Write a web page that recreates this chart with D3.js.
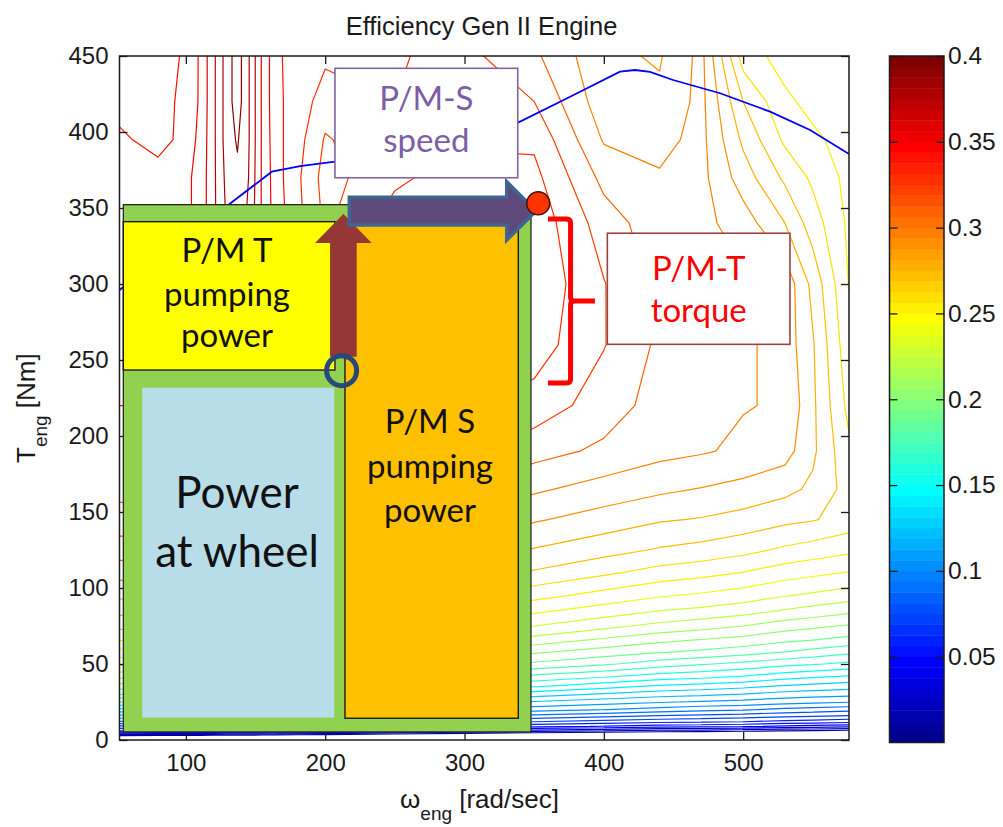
<!DOCTYPE html>
<html>
<head>
<meta charset="utf-8">
<title>Efficiency Gen II Engine</title>
<script src="https://cdn.jsdelivr.net/npm/d3@7"></script>
<style>
  html, body { margin: 0; padding: 0; background: #ffffff; }
  svg { display: block; }
  .tick text { font-family: "Liberation Sans", Arial, sans-serif; fill: #1a1a1a; }
</style>
</head>
<body>
<svg id="chart" width="1003" height="827"></svg>
<script>
// ---- Efficiency map of the engine -------------------------------------------------
// engine speed samples [rad/s]
const speedGrid = [52.36, 80, 98, 110, 120, 130, 137, 145, 155, 165, 180, 200, 250, 300, 350, 400, 440, 470, 500, 530, 550, 575.96];
// engine torque samples [Nm]
const torqueGrid = [0, 3, 6, 9, 12, 16, 20, 25, 30, 36, 42, 50, 58, 66, 75, 85, 95, 110, 125, 145, 165, 190, 220, 260, 300, 340, 370, 395, 420, 450];
// brake efficiency, one row per torque sample (bottom to top), one value per speed sample
const efficiency = [
  [-0.04, -0.04, -0.04, -0.04, -0.04, -0.04, -0.04, -0.04, -0.04, -0.04, -0.04, -0.04, -0.04, -0.04, -0.04, -0.04, -0.04, -0.04, -0.04, -0.04, -0.04, -0.04],
  [0.0125, 0.0105, 0.0096, 0.009, 0.008, 0.007, 0.007, 0.006, 0.0055, 0.0045, 0.003, 0.0008, -0.004, -0.008, -0.012, -0.0139, -0.015, -0.0158, -0.0167, -0.0178, -0.0183, -0.019],
  [0.06, 0.058, 0.057, 0.056, 0.055, 0.054, 0.054, 0.053, 0.0527, 0.052, 0.0496, 0.047, 0.040, 0.032, 0.025, 0.0201, 0.016, 0.0146, 0.0125, 0.0095, 0.0083, 0.006],
  [0.078, 0.078, 0.078, 0.078, 0.078, 0.078, 0.078, 0.078, 0.078, 0.078, 0.0732, 0.0707, 0.0649, 0.059, 0.053, 0.0493, 0.045, 0.0438, 0.0417, 0.0382, 0.0364, 0.034],
  [0.099, 0.099, 0.099, 0.099, 0.099, 0.099, 0.099, 0.099, 0.099, 0.099, 0.0923, 0.0891, 0.082, 0.0754, 0.070, 0.066, 0.063, 0.0617, 0.060, 0.0568, 0.0553, 0.053],
  [0.118, 0.118, 0.118, 0.118, 0.118, 0.118, 0.118, 0.118, 0.118, 0.118, 0.1118, 0.1091, 0.1028, 0.0954, 0.088, 0.0834, 0.080, 0.0781, 0.076, 0.0732, 0.0718, 0.070],
  [0.137, 0.137, 0.137, 0.137, 0.137, 0.137, 0.137, 0.137, 0.137, 0.137, 0.1291, 0.1255, 0.1175, 0.1102, 0.104, 0.1003, 0.096, 0.0929, 0.0912, 0.0876, 0.0859, 0.0836],
  [0.160, 0.160, 0.160, 0.160, 0.160, 0.160, 0.160, 0.160, 0.160, 0.160, 0.1506, 0.1462, 0.136, 0.1269, 0.119, 0.1144, 0.111, 0.1089, 0.1068, 0.1038, 0.1024, 0.1006],
  [0.180, 0.180, 0.180, 0.180, 0.180, 0.180, 0.180, 0.180, 0.180, 0.180, 0.1689, 0.1648, 0.1547, 0.1437, 0.1345, 0.1286, 0.124, 0.122, 0.1194, 0.1158, 0.1141, 0.1128],
  [0.197, 0.197, 0.197, 0.197, 0.197, 0.197, 0.197, 0.197, 0.197, 0.197, 0.1896, 0.1853, 0.1734, 0.1626, 0.153, 0.1458, 0.140, 0.1377, 0.1345, 0.1302, 0.1282, 0.1258],
  [0.214, 0.214, 0.214, 0.214, 0.214, 0.214, 0.214, 0.214, 0.214, 0.214, 0.204, 0.1997, 0.1905, 0.1803, 0.168, 0.1619, 0.156, 0.1536, 0.150, 0.1448, 0.1424, 0.1394],
  [0.232, 0.232, 0.232, 0.232, 0.232, 0.232, 0.232, 0.232, 0.232, 0.232, 0.2234, 0.2193, 0.2072, 0.1966, 0.188, 0.1815, 0.175, 0.171, 0.1674, 0.1629, 0.161, 0.1576],
  [0.247, 0.247, 0.247, 0.247, 0.247, 0.247, 0.247, 0.247, 0.247, 0.247, 0.2381, 0.2341, 0.2239, 0.2122, 0.2018, 0.1954, 0.191, 0.1882, 0.1848, 0.1801, 0.1767, 0.1725],
  [0.261, 0.261, 0.261, 0.261, 0.261, 0.261, 0.261, 0.261, 0.261, 0.261, 0.2511, 0.2468, 0.2366, 0.2265, 0.2164, 0.2085, 0.203, 0.1998, 0.1967, 0.1924, 0.1904, 0.1872],
  [0.273, 0.273, 0.273, 0.273, 0.273, 0.273, 0.273, 0.273, 0.273, 0.273, 0.2645, 0.2605, 0.2494, 0.239, 0.230, 0.223, 0.217, 0.2139, 0.210, 0.2046, 0.2021, 0.199],
  [0.283, 0.283, 0.283, 0.283, 0.283, 0.283, 0.283, 0.283, 0.283, 0.283, 0.2759, 0.2724, 0.2627, 0.2516, 0.242, 0.2353, 0.230, 0.2275, 0.2241, 0.219, 0.2162, 0.2125],
  [0.292, 0.292, 0.292, 0.292, 0.292, 0.292, 0.292, 0.292, 0.292, 0.292, 0.2846, 0.2814, 0.2731, 0.2633, 0.2534, 0.2463, 0.241, 0.2383, 0.235, 0.2305, 0.2281, 0.2249],
  [0.304, 0.304, 0.304, 0.304, 0.304, 0.304, 0.304, 0.304, 0.304, 0.304, 0.2963, 0.293, 0.2848, 0.2765, 0.2687, 0.2618, 0.256, 0.2532, 0.2496, 0.2446, 0.2423, 0.2393],
  [0.315, 0.315, 0.315, 0.315, 0.315, 0.315, 0.315, 0.315, 0.315, 0.315, 0.3072, 0.3036, 0.295, 0.2867, 0.2793, 0.2737, 0.269, 0.2666, 0.2631, 0.2581, 0.2555, 0.2523],
  [0.326, 0.326, 0.326, 0.326, 0.326, 0.326, 0.326, 0.326, 0.326, 0.326, 0.320, 0.3165, 0.3076, 0.2987, 0.2911, 0.2856, 0.281, 0.2793, 0.2764, 0.2725, 0.2707, 0.266],
  [0.333, 0.333, 0.333, 0.333, 0.333, 0.333, 0.333, 0.333, 0.333, 0.333, 0.328, 0.326, 0.3187, 0.310, 0.3016, 0.296, 0.292, 0.2895, 0.2868, 0.2829, 0.278, 0.266],
  [0.338, 0.338, 0.338, 0.338, 0.338, 0.338, 0.338, 0.338, 0.338, 0.338, 0.334, 0.332, 0.329, 0.3215, 0.3138, 0.308, 0.303, 0.301, 0.2981, 0.2941, 0.282, 0.262],
  [0.340, 0.340, 0.340, 0.342, 0.345, 0.348, 0.348, 0.346, 0.342, 0.340, 0.338, 0.335, 0.336, 0.332, 0.326, 0.315, 0.306, 0.3005, 0.3005, 0.299, 0.282, 0.257],
  [0.343, 0.343, 0.343, 0.347, 0.355, 0.362, 0.365, 0.360, 0.350, 0.343, 0.340, 0.335, 0.342, 0.340, 0.335, 0.3205, 0.308, 0.304, 0.302, 0.296, 0.281, 0.253],
  [0.345, 0.345, 0.345, 0.350, 0.362, 0.375, 0.378, 0.372, 0.356, 0.345, 0.338, 0.330, 0.345, 0.344, 0.338, 0.3205, 0.307, 0.305, 0.302, 0.297, 0.277, 0.2495],
  [0.347, 0.347, 0.347, 0.353, 0.368, 0.382, 0.386, 0.378, 0.358, 0.345, 0.333, 0.318, 0.335, 0.343, 0.337, 0.315, 0.304, 0.303, 0.295, 0.280, 0.265, 0.248],
  [0.347, 0.347, 0.347, 0.353, 0.368, 0.384, 0.388, 0.380, 0.358, 0.344, 0.332, 0.316, 0.328, 0.335, 0.333, 0.307, 0.301, 0.303, 0.285, 0.268, 0.258, 0.247],
  [0.343, 0.334, 0.344, 0.352, 0.368, 0.386, 0.391, 0.381, 0.358, 0.343, 0.334, 0.319, 0.328, 0.328, 0.328, 0.299, 0.297, 0.303, 0.278, 0.258, 0.252, 0.246],
  [0.334, 0.336, 0.342, 0.351, 0.368, 0.386, 0.395, 0.381, 0.358, 0.342, 0.336, 0.325, 0.330, 0.325, 0.320, 0.294, 0.292, 0.303, 0.270, 0.252, 0.247, 0.245],
  [0.333, 0.334, 0.341, 0.351, 0.368, 0.386, 0.395, 0.381, 0.358, 0.342, 0.335, 0.332, 0.332, 0.323, 0.312, 0.292, 0.289, 0.303, 0.255, 0.246, 0.243, 0.245]
];
// contour levels
const levels = [0.01, 0.02, 0.03, 0.04, 0.05, 0.06, 0.07, 0.08, 0.09, 0.10,
                0.11, 0.12, 0.13, 0.14, 0.15, 0.16, 0.17, 0.18, 0.19, 0.20,
                0.21, 0.22, 0.23, 0.24, 0.25, 0.26, 0.27, 0.28, 0.29, 0.30,
                0.31, 0.32, 0.33, 0.34, 0.35, 0.36, 0.37, 0.38, 0.39];

// maximum torque curve
const maxTorqueSpeed = [52.4, 131.8, 161.7, 182, 207, 338.8, 375.8, 411.6, 422.4, 433.1, 449.7, 483.4, 519.3, 548, 575.96];
const maxTorqueValue = [296, 353, 373.9, 377.6, 380.5, 406.4, 423.2, 439.7, 440.8, 439.5, 434.2, 425.5, 413.4, 401.3, 385.5];

// axis ticks
const speedTicks = [100, 200, 300, 400, 500];
const torqueTicks = [0, 50, 100, 150, 200, 250, 300, 350, 400, 450];
const colorTicks = [0.05, 0.1, 0.15, 0.2, 0.25, 0.3, 0.35, 0.4];
const colorTickLabels = ["0.05", "0.1", "0.15", "0.2", "0.25", "0.3", "0.35", "0.4"];

// ---- scales -----------------------------------------------------------------------
const svg = d3.select("#chart");
const x = d3.scaleLinear().domain([52.36, 575.96]).range([119.5, 849]);
const y = d3.scaleLinear().domain([0, 450]).range([740, 56]);
const cScale = d3.scaleLinear().domain([0, 0.4]).range([742.5, 56]);

// jet colormap with 64 entries, k = 1..64
function jet(k) {
  let r, g, b;
  if (k <= 8) { r = 0; g = 0; b = 0.5 + k * 0.0625; }
  else if (k <= 24) { r = 0; g = (k - 8) / 16; b = 1; }
  else if (k <= 40) { r = (k - 24) / 16; g = 1; b = 1 - (k - 24) / 16; }
  else if (k <= 56) { r = 1; g = 1 - (k - 40) / 16; b = 0; }
  else { r = 1 - (k - 56) / 16; g = 0; b = 0; }
  return d3.rgb(r * 255, g * 255, b * 255).formatHex();
}
const levelColor = v => jet(Math.min(64, Math.floor(v / 0.4 * 64) + 1));

// ---- contour lines (marching squares on the speed/torque grid) ----------------------
function contourPath(level) {
  const nx = speedGrid.length, ny = torqueGrid.length;
  const path = d3.path();
  const side = v => v >= level;
  const frac = (a, b) => (level - a) / (b - a);
  for (let j = 0; j < ny - 1; j++) {
    for (let i = 0; i < nx - 1; i++) {
      const z00 = efficiency[j][i], z10 = efficiency[j][i + 1];
      const z11 = efficiency[j + 1][i + 1], z01 = efficiency[j + 1][i];
      const w0 = speedGrid[i], w1 = speedGrid[i + 1];
      const t0 = torqueGrid[j], t1 = torqueGrid[j + 1];
      const pts = [];
      if (side(z00) !== side(z10)) pts.push([w0 + frac(z00, z10) * (w1 - w0), t0]);
      if (side(z10) !== side(z11)) pts.push([w1, t0 + frac(z10, z11) * (t1 - t0)]);
      if (side(z11) !== side(z01)) pts.push([w1 + frac(z11, z01) * (w0 - w1), t1]);
      if (side(z01) !== side(z00)) pts.push([w0, t1 + frac(z01, z00) * (t0 - t1)]);
      let segs = [];
      if (pts.length === 2) segs = [[pts[0], pts[1]]];
      else if (pts.length === 4) {
        const centre = (z00 + z10 + z11 + z01) / 4;
        segs = side(centre) === side(z00)
          ? [[pts[0], pts[1]], [pts[2], pts[3]]]
          : [[pts[0], pts[3]], [pts[1], pts[2]]];
      }
      segs.forEach(([a, b]) => {
        path.moveTo(x(a[0]), y(a[1]));
        path.lineTo(x(b[0]), y(b[1]));
      });
    }
  }
  return path.toString();
}

svg.append("clipPath").attr("id", "plotClip")
  .append("rect").attr("x", 119.5).attr("y", 56).attr("width", 729.5).attr("height", 684);

const plot = svg.append("g").attr("clip-path", "url(#plotClip)");
plot.append("g").attr("class", "contours")
  .selectAll("path").data(levels).join("path")
  .attr("d", d => contourPath(d))
  .attr("fill", "none")
  .attr("stroke", d => levelColor(d))
  .attr("stroke-width", 1.2)
  .attr("stroke-linecap", "round");

// maximum torque curve
plot.append("path")
  .datum(d3.zip(maxTorqueSpeed, maxTorqueValue))
  .attr("d", d3.line().x(d => x(d[0])).y(d => y(d[1])))
  .attr("fill", "none")
  .attr("stroke", "#0000ff")
  .attr("stroke-width", 1.8);

// ---- axes --------------------------------------------------------------------------
const axisFont = 24;
const gx = svg.append("g").attr("transform", "translate(0,740)")
  .call(d3.axisBottom(x).tickValues(speedTicks).tickSize(-8).tickPadding(14));
const gy = svg.append("g").attr("transform", "translate(119.5,0)")
  .call(d3.axisLeft(y).tickValues(torqueTicks).tickSize(-8).tickPadding(11));
const gxt = svg.append("g").attr("transform", "translate(0,56)")
  .call(d3.axisTop(x).tickValues(speedTicks).tickSize(-8).tickFormat(""));
const gyr = svg.append("g").attr("transform", "translate(849,0)")
  .call(d3.axisRight(y).tickValues(torqueTicks).tickSize(-8).tickFormat(""));
[gx, gy, gxt, gyr].forEach(g => {
  g.select(".domain").remove();
  g.selectAll(".tick line").attr("stroke", "#1a1a1a").attr("stroke-width", 1.3);
  g.selectAll(".tick text").attr("font-size", axisFont);
});
svg.append("rect")
  .attr("x", 119.5).attr("y", 56).attr("width", 729.5).attr("height", 684)
  .attr("fill", "none").attr("stroke", "#1a1a1a").attr("stroke-width", 1.5);

// title
svg.append("text")
  .attr("x", 481.5).attr("y", 35)
  .attr("text-anchor", "middle")
  .attr("font-family", "Liberation Sans, Arial, sans-serif")
  .attr("font-size", 25.5).attr("fill", "#1a1a1a")
  .text("Efficiency Gen II Engine");

// x label: omega_eng [rad/sec]
const xl = svg.append("text")
  .attr("x", 400).attr("y", 808)
  .attr("font-family", "Liberation Sans, Arial, sans-serif")
  .attr("font-size", 26).attr("fill", "#1a1a1a");
xl.append("tspan").text("\u03c9");
xl.append("tspan").attr("font-size", 19).attr("dy", 12).text("eng");
xl.append("tspan").attr("dy", -12).text(" [rad/sec]");

// y label: T_eng [Nm]
const yl = svg.append("text")
  .attr("transform", "translate(35,463) rotate(-90)")
  .attr("font-family", "Liberation Sans, Arial, sans-serif")
  .attr("font-size", 26).attr("fill", "#1a1a1a");
yl.append("tspan").text("T");
yl.append("tspan").attr("font-size", 19).attr("dy", 12).text("eng");
yl.append("tspan").attr("dy", -12).text(" [Nm]");

// ---- colorbar ----------------------------------------------------------------------
const cbX = 889.5, cbW = 54.5;
const bands = d3.range(64);
svg.append("g").selectAll("rect").data(bands).join("rect")
  .attr("x", cbX).attr("width", cbW)
  .attr("y", k => cScale((k + 1) * 0.4 / 64))
  .attr("height", k => cScale(k * 0.4 / 64) - cScale((k + 1) * 0.4 / 64) + 0.4)
  .attr("fill", k => jet(k + 1));
const cbRight = svg.append("g").attr("transform", `translate(${cbX + cbW},0)`)
  .call(d3.axisRight(cScale).tickValues(colorTicks).tickSize(-8).tickPadding(4)
    .tickFormat((d, i) => colorTickLabels[i]));
const cbLeft = svg.append("g").attr("transform", `translate(${cbX},0)`)
  .call(d3.axisLeft(cScale).tickValues(colorTicks).tickSize(-8).tickFormat(""));
[cbRight, cbLeft].forEach(g => {
  g.select(".domain").remove();
  g.selectAll(".tick line").attr("stroke", "#1a1a1a").attr("stroke-width", 1.3);
  g.selectAll(".tick text").attr("font-size", 24.5);
});
svg.append("rect")
  .attr("x", cbX).attr("y", 56).attr("width", cbW).attr("height", 742.5 - 56)
  .attr("fill", "none").attr("stroke", "#1a1a1a").attr("stroke-width", 1.5);

// ---- power-flow annotation ---------------------------------------------------------
const ann = svg.append("g");
const box = (w0, w1, t0, t1) => ({ x: x(w0), y: y(t1), w: x(w1) - x(w0), h: y(t0) - y(t1) });
function rectangle(w0, w1, t0, t1, fill, stroke, sw) {
  const b = box(w0, w1, t0, t1);
  ann.append("rect").attr("x", b.x).attr("y", b.y).attr("width", b.w).attr("height", b.h)
    .attr("fill", fill).attr("stroke", stroke || "none").attr("stroke-width", sw || 0);
}
const labelFont = "Lato, 'Open Sans', sans-serif";
function label(w, t, str, size, color) {
  ann.append("text").attr("x", x(w)).attr("y", y(t))
    .attr("text-anchor", "middle").attr("font-family", labelFont)
    .attr("font-size", size).attr("fill", color).text(str);
}

// engine operating envelope and power blocks
rectangle(55.1, 347.7, 5.3, 352.2, "#92d050", "#262626", 1.3);
rectangle(55.1, 207.0, 243.4, 341.0, "#ffff00", "#1a1a1a", 1.4);
rectangle(68.7, 206.5, 14.7, 231.8, "#b7dde8");
rectangle(214.2, 338.6, 14.3, 341.0, "#ffc000", "#1a1a1a", 1.4);

label(129.5, 314.5, "P/M T", 33, "#111");
label(129.5, 285.5, "pumping", 33, "#111");
label(129.5, 258.6, "power", 33, "#111");
label(275.2, 201.8, "P/M S", 33, "#111");
label(275.2, 172.2, "pumping", 33, "#111");
label(275.2, 143.6, "power", 33, "#111");
label(136.7, 152.4, "Power", 44, "#111");
label(136.7, 114.0, "at wheel", 44, "#111");

// torque step arrow (upward)
const up = [[203.5, 252.2], [203.5, 327.0], [192.7, 327.0], [213.05, 346.1],
            [233.4, 327.0], [222.6, 327.0], [222.6, 252.2]];
ann.append("path")
  .attr("d", d3.line().x(d => x(d[0])).y(d => y(d[1]))(up) + "Z")
  .attr("fill", "#953735");

// speed step arrow (rightward)
const right = [[217.3, 357.0], [330.3, 357.0], [330.3, 367.3], [351.3, 348.0],
               [330.3, 328.9], [330.3, 338.8], [217.3, 338.8]];
ann.append("path")
  .attr("d", d3.line().x(d => x(d[0])).y(d => y(d[1]))(right) + "Z")
  .attr("fill", "#5f497a").attr("stroke", "#3f6592").attr("stroke-width", 3.5)
  .attr("stroke-linejoin", "miter");

// operating points
ann.append("circle").attr("cx", x(211.8)).attr("cy", y(243.0)).attr("r", 15)
  .attr("fill", "none").attr("stroke", "#24497a").attr("stroke-width", 5);
ann.append("circle").attr("cx", x(352.9)).attr("cy", y(353.1)).attr("r", 11.5)
  .attr("fill", "#ff3300").attr("stroke", "#3a1408").attr("stroke-width", 1.5);

// torque bracket
const bx0 = x(359.9), bx1 = x(376.1), bx2 = x(393.6);
const by0 = y(342.8), by1 = y(288.8), by2 = y(234.9);
ann.append("path")
  .attr("d", `M${bx0},${by0} H${bx1 - 4} Q${bx1},${by0} ${bx1},${by0 + 4} V${by1 - 4} Q${bx1},${by1} ${bx1 + 4},${by1} H${bx2}` +
             ` M${bx1 + 4},${by1} Q${bx1},${by1} ${bx1},${by1 + 4} V${by2 - 4} Q${bx1},${by2} ${bx1 - 4},${by2} H${bx0}`)
  .attr("fill", "none").attr("stroke", "#ff0000").attr("stroke-width", 5);

// text boxes
rectangle(207.0, 338.2, 369.9, 441.9, "#ffffff", "#8064a2", 1.6);
label(272.6, 414.5, "P/M-S", 33, "#7d5ea6");
label(272.6, 387.0, "speed", 33, "#7d5ea6");
rectangle(402.5, 533.6, 260.3, 333.4, "#ffffff", "#9b4343", 1.6);
label(468.1, 302.6, "P/M-T", 33, "#ff0000");
label(468.1, 275.0, "torque", 33, "#ff0000");
</script>
</body>
</html>
